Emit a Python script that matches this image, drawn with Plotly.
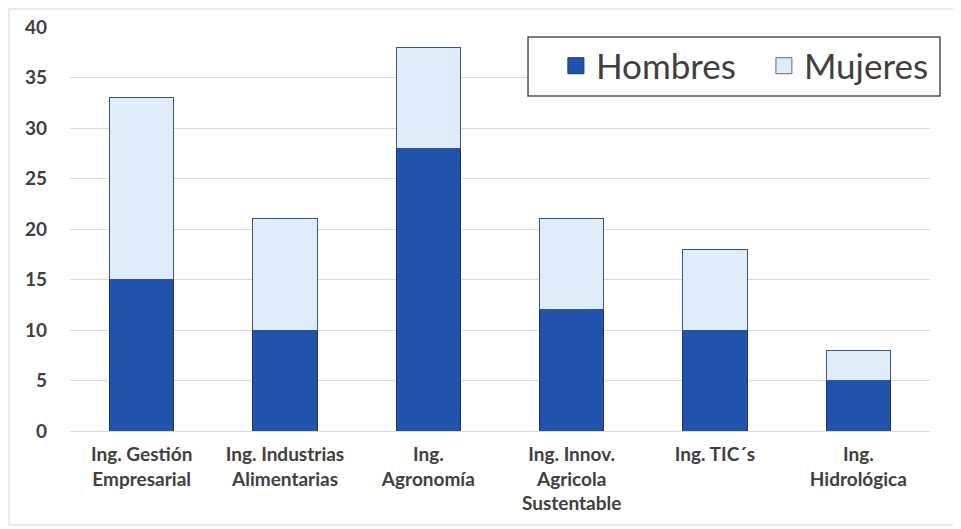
import plotly.graph_objects as go

categories = ["Ing. Gestión<br>Empresarial", "Ing. Industrias<br>Alimentarias", "Ing.<br>Agronomía",
              "Ing. Innov.<br>Agricola<br>Sustentable", "Ing. TIC´s", "Ing.<br>Hidrológica"]
hombres = [15, 10, 28, 12, 10, 5]
mujeres = [18, 11, 10, 9, 8, 3]
y_ticks = [0, 5, 10, 15, 20, 25, 30, 35, 40]

C_H = "#2153AD"
C_M = "#DFEDFA"
FONT = "Lato, Open Sans, sans-serif"

fig = go.Figure()
fig.add_trace(go.Bar(x=categories, y=hombres, name="Hombres", showlegend=False,
                     marker=dict(color=C_H, line=dict(color="#1B3466", width=1))))
fig.add_trace(go.Bar(x=categories, y=mujeres, name="Mujeres", showlegend=False,
                     marker=dict(color=C_M, line=dict(color="#3D5670", width=1))))
# legend entries (square swatches)
fig.add_trace(go.Scatter(x=[None], y=[None], mode="markers", name="Hombres",
                         marker=dict(symbol="square", size=20, color=C_H, line=dict(color="#1B3466", width=1))))
fig.add_trace(go.Scatter(x=[None], y=[None], mode="markers", name="Mujeres",
                         marker=dict(symbol="square", size=20, color=C_M, line=dict(color="#5A6E85", width=1))))

fig.update_layout(
    barmode="stack",
    bargap=0.55,
    width=961, height=529,
    margin=dict(l=62, r=39, t=19, b=106, autoexpand=False),
    paper_bgcolor="white", plot_bgcolor="white",
    font=dict(family=FONT, color="#404040"),
    legend=dict(orientation="h", x=0.565, xanchor="left", y=0.9035, yanchor="middle",
                bgcolor="rgba(0,0,0,0)", borderwidth=0,
                font=dict(size=35, color="#404040", family=FONT),
                itemwidth=30, traceorder="normal", itemsizing="trace",
                entrywidth=163, entrywidthmode="pixels"),
    xaxis=dict(showgrid=False, showline=True, linecolor="#D9D9D9", linewidth=1,
               tickfont=dict(size=19, color="#404040", family=FONT, weight="bold"),
               ticks="", ticklabelstandoff=6),
    yaxis=dict(range=[0, 40], tickvals=y_ticks, showgrid=True, gridcolor="#D9D9D9", gridwidth=1,
               zeroline=False, showline=False, ticks="",
               tickfont=dict(size=19, color="#404040", family=FONT, weight="bold"),
               ticklabelstandoff=22),
    shapes=[
        dict(type="rect", xref="paper", yref="paper", x0=-0.0709, x1=1.0314, y0=-0.2327, y1=1.0446,
             line=dict(color="#D6D6D6", width=1), layer="below"),
        dict(type="rect", xref="paper", yref="paper", x0=0.5326, x1=1.0116, y0=0.829, y1=0.975,
             line=dict(color="#505050", width=1.5), fillcolor="white", layer="above"),
    ],
)

fig.write_html("out.html")
